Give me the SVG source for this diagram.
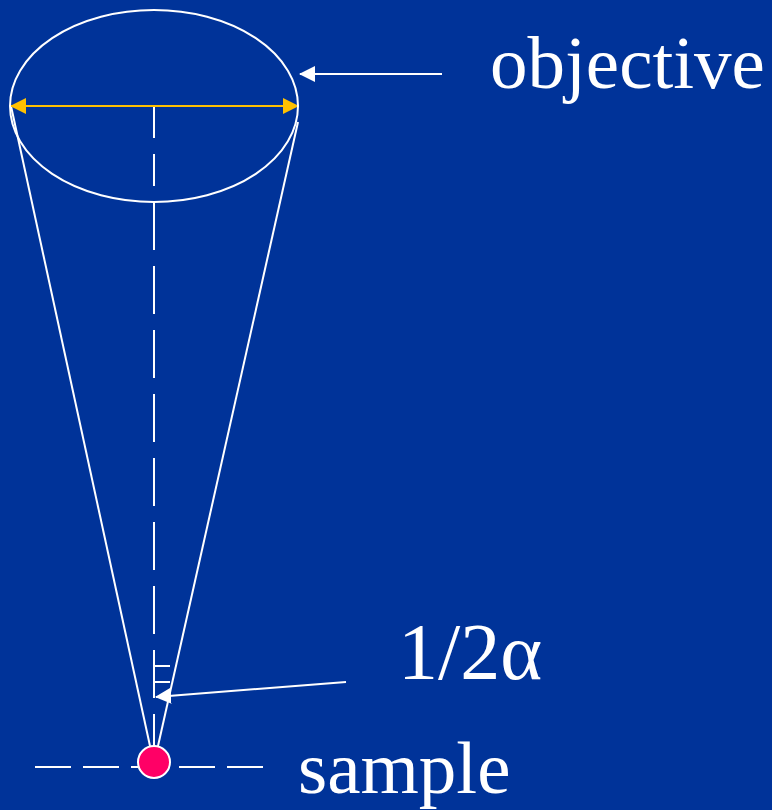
<svg xmlns="http://www.w3.org/2000/svg" width="772" height="810" viewBox="0 0 772 810">
<style>
.l{fill:none;stroke:#fff;stroke-width:2}
.t{fill:#fff;font-family:"Liberation Serif","Times New Roman",serif}
</style>
<defs>
<marker id="w" markerUnits="userSpaceOnUse" markerWidth="16" markerHeight="16" refX="15" refY="8" orient="auto"><path d="M0 0L16 8L0 16z" fill="#fff"/></marker>
<marker id="y" markerUnits="userSpaceOnUse" markerWidth="16" markerHeight="16" refX="15" refY="8" orient="auto"><path d="M0 0L16 8L0 16z" fill="#ffc000"/></marker>
</defs>
<rect width="772" height="810" fill="#003399"/>
<g id="connectors">
<path class="l" d="M11 106L150 746"/>
<path class="l" d="M298 122L158 746"/>
<path class="l" d="M154 106V138M154 154V186M154 202V250M154 266V314M154 330V378M154 394V442M154 458V506M154 522V570M154 586V634M154 650V698M154 714V746"/>
<path class="l" d="M154 666H170M154 682H170"/>
<path class="l" stroke-dasharray="36 12" d="M35 767H265"/>
<path class="l" d="M442 74H300" marker-end="url(#w)"/>
<path class="l" d="M346 682L156 697" marker-end="url(#w)"/>
<path d="M154 106H298" fill="none" stroke="#ffc000" stroke-width="2" marker-end="url(#y)"/>
<path d="M154 106H11" fill="none" stroke="#ffc000" stroke-width="2" marker-end="url(#y)"/>
</g>
<g id="objective"><ellipse class="l" cx="154" cy="106" rx="144" ry="96"/><text class="t" x="490" y="88" font-size="75">objective</text></g>
<g id="angle"><text class="t" x="398" y="679" font-size="80">1/2α</text></g>
<g id="sample"><circle cx="154" cy="762" r="16" fill="#ff0066" stroke="#fff" stroke-width="2"/><text class="t" x="298" y="793" font-size="75">sample</text></g>
</svg>
